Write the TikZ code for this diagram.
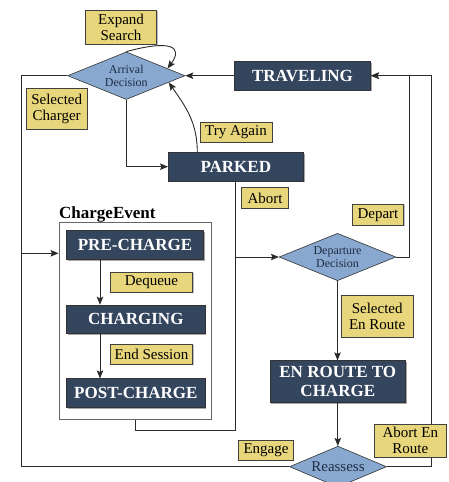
\documentclass[tikz,border=0pt]{standalone}
\usepackage{fontspec}
\setmainfont{Liberation Serif}
\usetikzlibrary{shapes.geometric,arrows.meta,shadows,calc}
\definecolor{navy}{HTML}{34455E}
\definecolor{dia}{HTML}{88A8CF}
\definecolor{lab}{HTML}{E8D67C}
\definecolor{ln}{HTML}{2A2A2A}
\definecolor{diatext}{HTML}{1F2D45}
\begin{document}
\begin{tikzpicture}[x=1pt,y=1pt,
 state/.style={rectangle, fill=navy, draw=black!80, line width=0.6pt, text=white,
   font=\fontsize{17}{19}\selectfont\bfseries, align=center, inner sep=0pt,
   drop shadow={shadow xshift=1.3pt, shadow yshift=-1.3pt, fill=black, opacity=0.35}},
 dec/.style={diamond, fill=dia, draw=black!80, line width=0.6pt, text=diatext,
   font=\fontsize{12}{13}\selectfont, align=center, inner sep=0pt, aspect=2.5},
 lbl/.style={rectangle, fill=lab, draw=black!75, line width=0.6pt,
   font=\fontsize{15}{16}\selectfont, align=center, inner sep=0pt,
   drop shadow={shadow xshift=0.8pt, shadow yshift=-0.8pt, fill=black, opacity=0.25}},
 cont/.style={rectangle, fill=white, draw=black!60, line width=0.9pt,
   drop shadow={shadow xshift=1pt, shadow yshift=-1pt, fill=black, opacity=0.2}},
 conn/.style={draw=ln, line width=0.9pt},
 flow/.style={conn, -{Stealth[length=8pt,width=6.5pt,inset=1.5pt]}},
]
\useasboundingbox (0,0) rectangle (448,482);

% container
\node[cont, minimum width=152, minimum height=196.6] (cev) at (135,161) {};
\node[anchor=base west, font=\fontsize{17}{19}\selectfont\bfseries, inner sep=0pt] (cevt) at (59,263.7) {ChargeEvent};

% states
\node[state, minimum width=136.4, minimum height=28.3] (trav) at (302.5,406.3) {TRAVELING};
\node[state, minimum width=135, minimum height=28.7] (park) at (235.8,315.3) {PARKED};
\node[state, minimum width=136.6, minimum height=28.6] (pre) at (135,237) {PRE-CHARGE};
\node[state, minimum width=138.3, minimum height=28.3] (chg) at (135.8,162.8) {CHARGING};
\node[state, minimum width=138.3, minimum height=28.6] (post) at (135.8,89) {POST-CHARGE};
\node[state, minimum width=135.7, minimum height=41.6] (enr) at (337.8,100.5) {EN ROUTE TO\\CHARGE};

% decisions
\node[dec, minimum width=117.3, minimum height=47.6] (arrd) at (126.3,406.3) {Arrival\\Decision};
\node[dec, minimum width=116.7, minimum height=47.4] (depd) at (337.5,225) {Departure\\Decision};
\node[dec, minimum width=97, minimum height=41, font=\fontsize{15}{16}\selectfont] (reas) at (338,15.3) {Reassess};

% connectors
\draw[flow] (trav.west) -- (arrd.east);
\draw[flow] (arrd.south) |- (park.west);
\draw[flow] ([xshift=-38.5pt]park.north) to[out=90,in=-55] ($(arrd.east)!0.28!(arrd.south)$);
\draw[flow] (arrd.north) .. controls +(44,12) and +(16,22) .. ($(arrd.north)!0.7!(arrd.east)$);

\coordinate (lx) at (21.7,228.7);
\draw[conn] (arrd.west) -| (lx);
\draw[conn] (reas.west) -| (lx);
\draw[flow] (lx) -- (lx -| cev.west);

\draw[flow] (park.south) |- (depd.west);
\draw[conn] (cev.south) -- ([yshift=-10.7pt]cev.south) -| (park.south |- depd.west);

\coordinate (r1) at (409.3,406.3);
\coordinate (r2) at (431.3,406.3);
\draw[flow] (depd.east) -| (r1) -- (trav.east);
\draw[flow] (reas.east) -| (r2) -- (trav.east);
\draw[flow] (depd.south) -- (depd.south |- enr.north);
\draw[flow] (enr.south) -- (enr.south |- reas.north);
\draw[flow] ([xshift=-35pt]pre.south) -- ([xshift=-35pt]pre.south |- chg.north);
\draw[flow] ([xshift=-35.8pt]chg.south) -- ([xshift=-35.8pt]chg.south |- post.north);

% labels
\node[lbl, minimum width=71.4, minimum height=34] (lexp) at (121,454.7) {Expand\\Search};
\node[lbl, minimum width=61.3, minimum height=41] (lsel) at (56.7,373.2) {Selected\\Charger};
\node[lbl, minimum width=72, minimum height=19.6] (ltry) at (236,349.5) {Try Again};
\node[lbl, minimum width=46.6, minimum height=20.6] (labort) at (265,284) {Abort};
\node[lbl, minimum width=51.4, minimum height=20.7] (ldep) at (378,267.3) {Depart};
\node[lbl, minimum width=82.4, minimum height=20] (ldeq) at (151.5,199.7) {Dequeue};
\node[lbl, minimum width=82.4, minimum height=20] (lend) at (151.5,127.7) {End Session};
\node[lbl, minimum width=72.3, minimum height=41.3] (lsen) at (377.2,165.7) {Selected\\En Route};
\node[lbl, minimum width=54.6, minimum height=20] (leng) at (266,32) {Engage};
\node[lbl, minimum width=72.7, minimum height=33.7] (laen) at (410.3,41.2) {Abort En\\Route};
\end{tikzpicture}
\end{document}
